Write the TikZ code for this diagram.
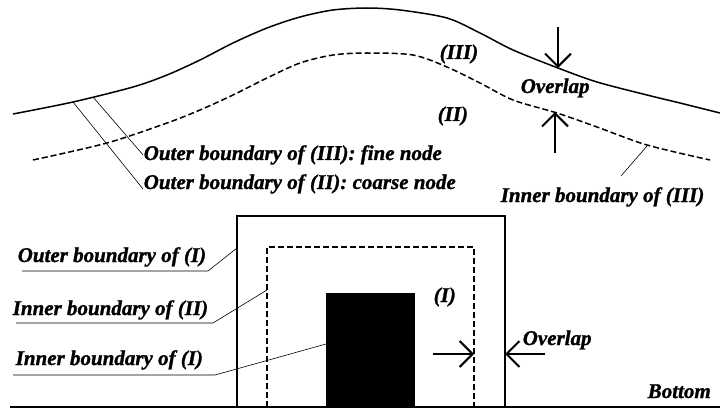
\documentclass[tikz,border=0pt]{standalone}
\usepackage{fontspec}
\setmainfont{Liberation Serif}[BoldItalicFeatures={FakeBold=1.2}]
\usetikzlibrary{arrows.meta}
\begin{document}
\begin{tikzpicture}[x=1pt,y=-1pt,line width=1.5pt,
  lbl/.style={font=\fontsize{21}{24}\selectfont\bfseries\itshape,inner sep=0pt,anchor=base west},
  lead/.style={line width=.6pt},
  bnd/.style={dash pattern=on 6pt off 3pt},
  gap/.style={line width=2pt,-{Straight Barb[length=13pt,width=26pt,line width=2pt]}}]
\useasboundingbox (0,0) rectangle (720,409);
% boundaries of (III)
\draw plot[smooth,tension=.5] coordinates {(13,114) (73,102) (133,87) (167,75) (200,60) (233,43) (267,28) (300,17) (333,10) (367,8) (400,10) (447,18) (480,33) (513,50) (558,68) (597,82) (647,95) (680,103) (720,113)};
\draw[bnd] plot[smooth,tension=.5] coordinates {(33,160) (107,143) (167,123) (200,110) (233,95) (267,78) (300,63) (333,55) (367,53) (413,55) (447,67) (480,83) (513,100) (557,113) (597,127) (647,145) (710,160)};
\coordinate (c3) at (93,97); \coordinate (c2) at (73,102);
\coordinate (d3) at (647,146); \coordinate (e3) at (621,176);
% region (I)
\fill (326,293) rectangle (415,407);
\draw (237,407) -- (237,216) -- (505,216) -- (505,407);
\draw[bnd] (267,407) -- (267,247) -- (474,247) -- (474,407);
\draw[line width=2pt] (10,407) -- (720,407);
\coordinate (b1) at (237,248); \coordinate (b2) at (267,290); \coordinate (b3) at (326,344);
% labels
\node[lbl] (r3) at (439,59) {(III)};
\node[lbl] (r2) at (437,121) {(II)};
\node[lbl] (ov1) at (520,93) {Overlap};
\node[lbl] (r1) at (433,302) {(I)};
\node[lbl] (ov2) at (522,345) {Overlap};
\node[lbl] (bot) at (647,398) {Bottom};
\node[lbl] (t3) at (143,160) {Outer boundary of (III): fine node};
\node[lbl] (t2) at (143,189) {Outer boundary of (II): coarse node};
\node[lbl] (t4) at (500,202) {Inner boundary of (III)};
\node[lbl] (s1) at (17,262) {Outer boundary of (I)};
\node[lbl] (s2) at (12,315) {Inner boundary of (II)};
\node[lbl] (s3) at (15,365) {Inner boundary of (I)};
% leaders
\draw[lead] (c3) -- (t3.west);
\draw[lead] (c2) -- (t2.base west);
\draw[lead] (d3) -- (e3);
\draw[lead] (22,271) -- (208,271) -- (b1);
\draw[lead] (16,323) -- (213,323) -- (b2);
\draw[lead] (13,375) -- (215,375) -- (b3);
% overlaps
\draw[gap] (558,27) -- (558,68);
\draw[gap] (555,153) -- (555,112);
\draw[gap] (433,354) -- (474,354);
\draw[gap] (545,354) -- (505,354);
\end{tikzpicture}
\end{document}
